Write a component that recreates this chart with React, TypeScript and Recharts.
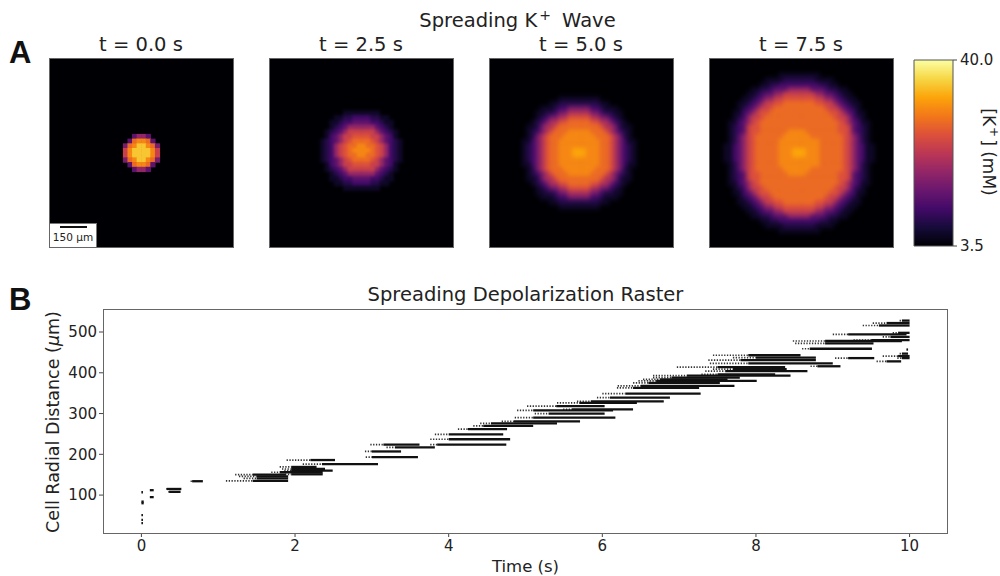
import { Bar, BarChart, Line, LineChart, Scatter, ScatterChart, XAxis, YAxis } from "recharts";

const FONT = "'DejaVu Sans', sans-serif";
const INK = "#222";
const TICK_STROKE = "#444";

const PANEL_TITLES = ["t = 0.0 s", "t = 2.5 s", "t = 5.0 s", "t = 7.5 s"];
const K_MIN = 3.5;
const K_MAX = 40;
const INFERNO = ["#000004", "#160b39", "#420a68", "#6a176e", "#932667", "#bc3754", "#dd513a", "#f37819", "#fca50a", "#f6d746", "#fcffa4"];

// [K+], one hex digit per pixel: 0 = 3.5 mM, F = 40 mM
const B = "0000000000000000000000000000000000000000";

const K_T0 = [
  B, B, B, B, B, B, B, B, B, B, B, B, B, B, B, B,
  "0000000000000000" + "00466400" + "0000000000000000",
  "0000000000000000" + "04ABBA40" + "0000000000000000",
  "0000000000000000" + "5ABDDBA5" + "0000000000000000",
  "0000000000000000" + "8BDDDDB8" + "0000000000000000",
  "0000000000000000" + "8BDDDDB8" + "0000000000000000",
  "0000000000000000" + "5ABDDBA5" + "0000000000000000",
  "0000000000000000" + "04ABBA40" + "0000000000000000",
  "0000000000000000" + "00466400" + "0000000000000000",
  B, B, B, B, B, B, B, B, B, B, B, B, B, B, B, B,
];

const K_T25 = [
  B, B, B, B, B, B, B, B, B, B, B,
  "0000000000" + "0000001111" + "1111000000" + "0000000000",
  "0000000000" + "0000112233" + "3322110000" + "0000000000",
  "0000000000" + "0001123344" + "4433211000" + "0000000000",
  "0000000000" + "0001234666" + "6664321000" + "0000000000",
  "0000000000" + "0012346888" + "8886432100" + "0000000000",
  "0000000000" + "0013468899" + "9988643100" + "0000000000",
  "0000000000" + "01234689AA" + "AA98643210" + "0000000000",
  "0000000000" + "0123689AAB" + "BAA9863210" + "0000000000",
  "0000000000" + "0123689ABB" + "BBA9863210" + "0000000000",
  "0000000000" + "0123689AAB" + "BAA9863210" + "0000000000",
  "0000000000" + "01234689AA" + "AA98643210" + "0000000000",
  "0000000000" + "0013468899" + "9988643100" + "0000000000",
  "0000000000" + "0012346888" + "8886432100" + "0000000000",
  "0000000000" + "0001234666" + "6664321000" + "0000000000",
  "0000000000" + "0001123344" + "4433211000" + "0000000000",
  "0000000000" + "0000112233" + "3322110000" + "0000000000",
  "0000000000" + "0000001111" + "1111000000" + "0000000000",
  B, B, B, B, B, B, B, B, B, B, B, B,
];

const K_T50 = [
  B, B, B, B, B, B, B, B,
  "000000" + "0000000001111" + "11111000000000" + "0000000",
  "000000" + "0000000112222" + "22222110000000" + "0000000",
  "000000" + "0000011123355" + "55533211100000" + "0000000",
  "000000" + "0000112235577" + "77755322110000" + "0000000",
  "000000" + "0000123557799" + "99977553210000" + "0000000",
  "000000" + "00012357799AA" + "AAA99775321000" + "0000000",
  "000000" + "001125779AAAA" + "AAAAA977521100" + "0000000",
  "000000" + "00123579AAABB" + "BBBAAA97532100" + "0000000",
  "000000" + "0012579AAABBB" + "BBBBAAA9752100" + "0000000",
  "000000" + "0113579AABBBB" + "BBBBBAA9753110" + "0000000",
  "000000" + "0123579AABBBB" + "BBBBBAA9753210" + "0000000",
  "000000" + "0123579AABBBC" + "CCBBBAA9753210" + "0000000",
  "000000" + "0123579AABBBC" + "CCBBBAA9753210" + "0000000",
  "000000" + "0123579AABBBB" + "BBBBBAA9753210" + "0000000",
  "000000" + "0113579AABBBB" + "BBBBBAA9753110" + "0000000",
  "000000" + "0012579AAABBB" + "BBBBAAA9752100" + "0000000",
  "000000" + "00123579AAABB" + "BBBAAA97532100" + "0000000",
  "000000" + "001125779AAAA" + "AAAAA977521100" + "0000000",
  "000000" + "00012357799AA" + "AAA99775321000" + "0000000",
  "000000" + "0000123557799" + "99977553210000" + "0000000",
  "000000" + "0000112235577" + "77755322110000" + "0000000",
  "000000" + "0000011123355" + "55533211100000" + "0000000",
  "000000" + "0000000112222" + "22222110000000" + "0000000",
  "000000" + "0000000001111" + "11111000000000" + "0000000",
  B, B, B, B, B, B, B, B,
];

const K_T75 = [
  B, B, B,
  "00" + "00000000000001111" + "111110000000000000" + "000",
  "00" + "00000000001111222" + "222211110000000000" + "000",
  "00" + "00000000011223333" + "333332211000000000" + "000",
  "00" + "00000001122344466" + "666444322110000000" + "000",
  "00" + "00000011234466888" + "888866443211000000" + "000",
  "00" + "00000112346688999" + "999988664321100000" + "000",
  "00" + "00001123468899AAA" + "AAAA99886432110000" + "000",
  "00" + "000012346889AAAAA" + "AAAAAA988643210000" + "000",
  "00" + "00011346899AAAAAA" + "AAAAAAA99864311000" + "000",
  "00" + "0001236889AAAAAAA" + "AAAAAAAA9886321000" + "000",
  "00" + "001134689AAAAAAAA" + "AAAAAAAAA986431100" + "000",
  "00" + "001234899AAAAAAAA" + "AAAAAAAAA998432100" + "000",
  "00" + "001234899AAAAAABB" + "BBAAAAAAA998432100" + "000",
  "00" + "00124689AAAAAABBB" + "BBBAAAAAAA98642100" + "000",
  "00" + "00124689AAAAABBBB" + "BBBBBAAAAA98642100" + "000",
  "00" + "01134689AAAAABBBB" + "BBBBBAAAAA98643110" + "000",
  "00" + "01134689AAAAABBBC" + "CCBBBAAAAA98643110" + "000",
  "00" + "01134689AAAAABBBC" + "CCBBBAAAAA98643110" + "000",
  "00" + "01134689AAAAABBBB" + "BBBBBAAAAA98643110" + "000",
  "00" + "00124689AAAAABBBB" + "BBBBBAAAAA98642100" + "000",
  "00" + "00124689AAAAAABBB" + "BBBAAAAAAA98642100" + "000",
  "00" + "001234899AAAAAABB" + "BBAAAAAAA998432100" + "000",
  "00" + "001234899AAAAAAAA" + "AAAAAAAAA998432100" + "000",
  "00" + "001134689AAAAAAAA" + "AAAAAAAAA986431100" + "000",
  "00" + "0001236889AAAAAAA" + "AAAAAAAA9886321000" + "000",
  "00" + "00011346899AAAAAA" + "AAAAAAA99864311000" + "000",
  "00" + "000012346889AAAAA" + "AAAAAA988643210000" + "000",
  "00" + "00001123468899AAA" + "AAAA99886432110000" + "000",
  "00" + "00000112346688999" + "999988664321100000" + "000",
  "00" + "00000011234466888" + "888866443211000000" + "000",
  "00" + "00000001122344466" + "666444322110000000" + "000",
  "00" + "00000000011223333" + "333332211000000000" + "000",
  "00" + "00000000001111222" + "222211110000000000" + "000",
  "00" + "00000000000001111" + "111110000000000000" + "000",
  B, B, B,
];

const PANELS = [K_T0, K_T25, K_T50, K_T75];
const PANEL_LEFT = [49, 269, 489, 709];
const PANEL_BLUR = [0.5, 1.7, 2.2, 2.2];

// raster: one row per cell, dotted from first spike to solid, then solid to last spike
const RASTER_DIST = [31, 39, 51, 80, 84, 107, 95, 112, 108, 115, 134, 135, 141, 146, 150, 151, 156, 160, 164, 169, 176, 186, 193, 207, 217, 224, 224, 237, 249, 262, 270, 276, 281, 290, 300, 308, 310, 318, 326, 330, 339, 349, 363, 368, 375, 380, 384, 388, 393, 396, 404, 409, 414, 416, 423, 431, 436, 436, 437, 443, 428, 441, 447, 457, 459, 472, 478, 480, 488, 494, 498, 516, 522, 528];
const RASTER_FIRST = [0, 0, 0, 0, 0, 0, 0.11, 0.11, 0.35, 0.32, 0.64, 1.1, 1.33, 1.27, 1.22, 1.87, 1.69, 1.86, 1.83, 1.8, 2.1, 1.89, 2.92, 2.91, 3.19, 2.98, 3.76, 3.76, 3.82, 4.12, 4.32, 4.41, 4.69, 4.86, 5.12, 4.89, 5.49, 5.02, 5.41, 5.67, 5.93, 6.0, 6.19, 6.2, 6.4, 6.47, 6.53, 6.66, 6.66, 7.29, 7.34, 7.44, 6.97, 8.71, 7.4, 7.38, 9.03, 9.84, 7.7, 7.44, 9.57, 9.65, 9.87, 9.96, 8.6, 8.51, 8.48, 9.27, 9.65, 9.0, 9.78, 9.39, 9.52, 9.87];
const RASTER_SOLID = [0, 0, 0, 0, 0, 0, 0.11, 0.11, 0.36, 0.33, 0.66, 1.45, 1.5, 1.5, 1.45, 1.95, 1.8, 1.95, 1.95, 1.95, 2.35, 2.2, 3.0, 3.0, 3.3, 3.15, 3.85, 4.0, 4.0, 4.25, 4.45, 4.55, 4.85, 5.1, 5.3, 5.1, 5.6, 5.4, 5.7, 5.85, 6.1, 6.3, 6.4, 6.5, 6.6, 6.7, 6.75, 6.9, 7.1, 7.5, 7.6, 7.7, 7.5, 8.8, 7.9, 7.8, 9.2, 9.9, 8.0, 7.9, 9.7, 9.85, 9.9, 9.96, 8.7, 8.9, 8.9, 9.5, 9.75, 9.2, 9.85, 9.6, 9.7, 9.9];
const RASTER_LAST = [0.02, 0.02, 0.02, 0.03, 0.03, 0.02, 0.16, 0.16, 0.51, 0.52, 0.8, 1.91, 1.91, 1.91, 1.88, 2.36, 2.36, 2.49, 2.39, 2.28, 3.08, 2.52, 3.6, 3.38, 3.82, 3.62, 4.75, 4.8, 4.71, 4.76, 5.1, 5.41, 5.71, 6.17, 6.03, 6.14, 6.4, 6.03, 6.45, 6.8, 6.88, 7.28, 7.26, 7.72, 7.53, 8.01, 7.63, 7.79, 8.45, 8.25, 8.67, 8.4, 8.38, 9.1, 9.0, 8.78, 9.54, 10, 8.78, 8.58, 9.89, 10, 9.98, 9.98, 9.51, 9.53, 9.9, 10, 10, 9.96, 10, 10, 10, 10];

const TIME_TICKS = [0, 2, 4, 6, 8, 10];
const DIST_TICKS = [100, 200, 300, 400, 500];
const COLORBAR_TICKS = [3.5, 40];

const colorAt = (f: number) => {
  const p = Math.min(Math.max(f, 0), 1) * (INFERNO.length - 1);
  const i = Math.min(Math.floor(p), INFERNO.length - 2);
  const mix = (a: string, b: string, s: number) => {
    const pa = parseInt(a, 16);
    const pb = parseInt(b, 16);
    return Math.round(pa + (pb - pa) * s);
  };
  const c = [1, 3, 5].map((k) => mix(INFERNO[i].slice(k, k + 2), INFERNO[i + 1].slice(k, k + 2), p - i));
  return `rgb(${c[0]},${c[1]},${c[2]})`;
};

const toPoints = (rows: string[]) => {
  const pts: { col: number; row: number; k: number }[] = [];
  rows.forEach((r, row) => {
    r.split("").forEach((c, col) => {
      const lv = parseInt(c, 16);
      if (lv > 0) pts.push({ col: col + 0.5, row: row + 0.5, k: K_MIN + (lv / 15) * (K_MAX - K_MIN) });
    });
  });
  return pts;
};

const Cell = (p: any) => (
  <rect
    x={p.cx - 2.6}
    y={p.cy - 2.65}
    width={5.2}
    height={5.3}
    fill={colorAt((p.payload.k - K_MIN) / (K_MAX - K_MIN))}
  />
);

function HeatPanel({ rows, left, title, blur }: { rows: string[]; left: number; title: string; blur: number }) {
  return (
    <>
      <div style={{ position: "absolute", left, top: 33, width: 184, textAlign: "center", fontSize: 19.5, lineHeight: "23px", color: INK }}>{title}</div>
      <div style={{ position: "absolute", left, top: 58, width: 185, height: 190, boxSizing: "border-box", border: "1px solid #666", background: "#000004", overflow: "hidden" }}>
        <div style={{ filter: `blur(${blur}px)` }}>
          <ScatterChart width={183} height={188} margin={{ top: 0, right: 0, bottom: 0, left: 0 }}>
            <XAxis type="number" dataKey="col" domain={[0, 40]} hide />
            <YAxis type="number" dataKey="row" domain={[0, 40]} reversed hide />
            <Scatter data={toPoints(rows)} shape={Cell} isAnimationActive={false} />
          </ScatterChart>
        </div>
      </div>
    </>
  );
}

function DistLabel() {
  return (
    <text x={54} y={122} transform="rotate(-90 54 122)" textAnchor="middle" dominantBaseline="middle" fontSize={17.5} fill={INK} fontFamily={FONT}>
      Cell Radial Distance (<tspan fontStyle="italic">μ</tspan>m)
    </text>
  );
}

export default function App() {
  return (
    <div style={{ position: "absolute", left: 0, top: 0, width: 1000, height: 576, background: "#fff", fontFamily: FONT, overflow: "hidden" }}>
      <div style={{ position: "absolute", left: 0, top: 9, width: 1035, textAlign: "center", fontSize: 19.5, lineHeight: "23px", color: INK }}>
        Spreading K<sup style={{ fontSize: 14, lineHeight: 0, marginLeft: 2, marginRight: 5 }}>+</sup> Wave
      </div>
      <div style={{ position: "absolute", left: 9, top: 35, fontFamily: "'Liberation Sans', sans-serif", fontWeight: 700, fontSize: 31, color: "#111" }}>A</div>
      <div style={{ position: "absolute", left: 9, top: 282, fontFamily: "'Liberation Sans', sans-serif", fontWeight: 700, fontSize: 31, color: "#111" }}>B</div>

      {PANELS.map((rows, i) => (
        <HeatPanel key={PANEL_TITLES[i]} rows={rows} left={PANEL_LEFT[i]} title={PANEL_TITLES[i]} blur={PANEL_BLUR[i]} />
      ))}

      {/* scale bar */}
      <div style={{ position: "absolute", left: 50, top: 223, width: 47, height: 24, background: "#fff", border: "1px solid #777", borderLeft: "none", borderBottom: "none", boxSizing: "border-box" }}>
        <div style={{ position: "absolute", left: 10, top: 2, width: 27, height: 1.5, background: "#111" }} />
        <div style={{ position: "absolute", left: 0, top: 7, width: 46, textAlign: "center", fontSize: 10.5, color: INK }}>150 μm</div>
      </div>

      {/* colorbar */}
      <div style={{ position: "absolute", left: 913, top: 47 }}>
        <BarChart width={86} height={212} data={[{ name: "K", range: [K_MIN, K_MAX] }]} margin={{ top: 13, right: 0, bottom: 13, left: 1 }} barCategoryGap={0}>
          <defs>
            <linearGradient id="inferno" x1="0" y1="1" x2="0" y2="0">
              {INFERNO.map((c, i) => (
                <stop key={c} offset={i / (INFERNO.length - 1)} stopColor={c} />
              ))}
            </linearGradient>
          </defs>
          <XAxis dataKey="name" hide />
          <YAxis
            orientation="right"
            type="number"
            domain={[K_MIN, K_MAX]}
            ticks={COLORBAR_TICKS}
            tickFormatter={(v: number) => v.toFixed(1)}
            width={46}
            axisLine={false}
            tickSize={4}
            tickMargin={3}
            tickLine={{ stroke: TICK_STROKE }}
            tick={{ fontSize: 15, fill: INK, fontFamily: FONT }}
            interval={0}
          />
          <Bar dataKey="range" fill="url(#inferno)" stroke="#555" strokeWidth={1} isAnimationActive={false} />
        </BarChart>
      </div>
      <div style={{ position: "absolute", left: 989, top: 152, whiteSpace: "nowrap", fontSize: 17, color: INK, transform: "translate(-50%, -50%) rotate(90deg)" }}>
        [K<sup style={{ fontSize: 12, lineHeight: 0, marginLeft: 1, marginRight: 2 }}>+</sup>] (mM)
      </div>

      {/* raster */}
      <div style={{ position: "absolute", left: 0, top: 300, width: 1000, height: 276 }}>
        <LineChart width={1000} height={276} margin={{ top: 10, right: 52, bottom: 0, left: 53 }}>
          <XAxis
            type="number"
            dataKey="t"
            domain={[-0.5, 10.5]}
            ticks={TIME_TICKS}
            allowDataOverflow
            allowDuplicatedCategory={false}
            height={43}
            axisLine={false}
            tickSize={4}
            tickMargin={3}
            tickLine={{ stroke: TICK_STROKE }}
            tick={{ fontSize: 15, fill: INK, fontFamily: FONT }}
            label={{ value: "Time (s)", position: "insideBottom", offset: 4, fontSize: 16.5, fill: INK, fontFamily: FONT }}
          />
          <YAxis
            type="number"
            dataKey="r"
            domain={[7, 554]}
            ticks={DIST_TICKS}
            allowDataOverflow
            width={50}
            axisLine={false}
            tickSize={4}
            tickLine={{ stroke: TICK_STROKE }}
            tick={{ fontSize: 15, fill: INK, fontFamily: FONT }}
            label={<DistLabel />}
          />
          {RASTER_DIST.map((r, i) => (
            <Line
              key={`d${i}`}
              data={[{ t: RASTER_FIRST[i], r }, { t: RASTER_SOLID[i], r }]}
              dataKey="r"
              stroke="#333"
              strokeWidth={1.7}
              strokeDasharray="1.3 1.5"
              dot={false}
              isAnimationActive={false}
            />
          ))}
          {RASTER_DIST.map((r, i) => (
            <Line
              key={`s${i}`}
              data={[{ t: RASTER_SOLID[i], r }, { t: RASTER_LAST[i], r }]}
              dataKey="r"
              stroke="#111"
              strokeWidth={2.3}
              dot={false}
              isAnimationActive={false}
            />
          ))}
        </LineChart>
        <div style={{ position: "absolute", left: 103, top: 9, width: 845, height: 225, boxSizing: "border-box", border: "1.5px solid #666", pointerEvents: "none" }} />
      </div>
      <div style={{ position: "absolute", left: 103, top: 283, width: 845, textAlign: "center", fontSize: 19.5, lineHeight: "23px", color: INK }}>Spreading Depolarization Raster</div>
    </div>
  );
}
